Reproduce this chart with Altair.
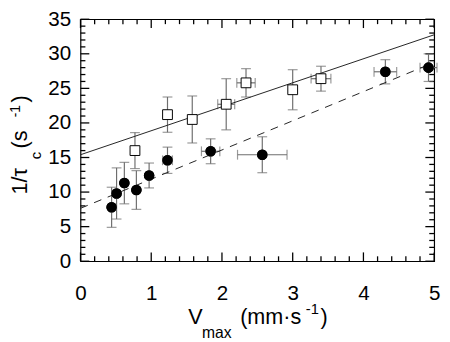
import altair as alt
import pandas as pd

# ---------------- data ----------------
circ_x = [0.44, 0.51, 0.62, 0.79, 0.97, 1.23, 1.84, 2.57, 4.31, 4.92]
circ_y = [7.8, 9.8, 11.3, 10.3, 12.4, 14.6, 15.9, 15.4, 27.4, 28.0]
circ_yerr = [2.9, 3.7, 3.0, 2.8, 1.8, 1.9, 1.8, 2.6, 1.75, 2.0]
circ_xerr = [0, 0, 0, 0, 0, 0.07, 0.13, 0.35, 0.16, 0.12]

sq_x = [0.77, 1.23, 1.58, 2.06, 2.34, 3.00, 3.40]
sq_y = [16.0, 21.2, 20.5, 22.7, 25.8, 24.8, 26.4]
sq_yerr = [2.6, 2.55, 3.4, 3.7, 2.05, 2.9, 1.8]
sq_xerr = [0, 0, 0, 0.12, 0.13, 0, 0.14]

fit_x = [0, 5]
solid_y = [15.4, 32.75]
dashed_y = [7.65, 28.75]

x_major = [0, 1, 2, 3, 4, 5]
x_minor = [round(i * 0.2, 1) for i in range(26) if i % 5 != 0]
y_major = [0, 5, 10, 15, 20, 25, 30, 35]
y_minor = [i for i in range(36) if i % 5 != 0]

W, H = 361, 247
FONT = "Liberation Sans"
XMAX, YMAX = 5, 35

circ = pd.DataFrame({"x": circ_x, "y": circ_y, "ye": circ_yerr, "xe": circ_xerr})
sq = pd.DataFrame({"x": sq_x, "y": sq_y, "ye": sq_yerr, "xe": sq_xerr})
for d in (circ, sq):
    d["ylo"] = d["y"] - d["ye"]
    d["yhi"] = d["y"] + d["ye"]
    d["xlo"] = d["x"] - d["xe"]
    d["xhi"] = d["x"] + d["xe"]

xs = alt.Scale(domain=[0, XMAX], nice=False, zero=False)
ys = alt.Scale(domain=[0, YMAX], nice=False, zero=False)


def X(f):
    return alt.X(f, scale=xs, axis=alt.Axis(title=None))


def Y(f):
    return alt.Y(f, scale=ys, axis=alt.Axis(title=None))


ERR = "#6e6e6e"


def errbars(d):
    v = alt.Chart(d).mark_rule(color=ERR, strokeWidth=1.2).encode(
        x=X("x:Q"), y=Y("ylo:Q"), y2="yhi:Q")
    vcap_lo = alt.Chart(d).mark_tick(color=ERR, orient="horizontal", size=10, thickness=1.2).encode(
        x=X("x:Q"), y=Y("ylo:Q"))
    vcap_hi = alt.Chart(d).mark_tick(color=ERR, orient="horizontal", size=10, thickness=1.2).encode(
        x=X("x:Q"), y=Y("yhi:Q"))
    dh = d[d["xe"] > 0].reset_index(drop=True)
    h = alt.Chart(dh).mark_rule(color=ERR, strokeWidth=1.2).encode(
        x=X("xlo:Q"), x2="xhi:Q", y=Y("y:Q"))
    hcap_lo = alt.Chart(dh).mark_tick(color=ERR, orient="vertical", size=10, thickness=1.2).encode(
        x=X("xlo:Q"), y=Y("y:Q"))
    hcap_hi = alt.Chart(dh).mark_tick(color=ERR, orient="vertical", size=10, thickness=1.2).encode(
        x=X("xhi:Q"), y=Y("y:Q"))
    return [v, vcap_lo, vcap_hi, h, hcap_lo, hcap_hi]


fit = pd.DataFrame({"x": fit_x, "solid": solid_y, "dashed": dashed_y})
solid = alt.Chart(fit).mark_line(color="#222", strokeWidth=1).encode(
    x=X("x:Q"), y=Y("solid:Q"))
dashed = alt.Chart(fit).mark_line(color="#222", strokeWidth=1, strokeDash=[8, 7]).encode(
    x=X("x:Q"), y=Y("dashed:Q"))

circles = alt.Chart(circ).mark_point(shape="circle", filled=True, color="black", size=115, opacity=1).encode(
    x=X("x:Q"), y=Y("y:Q"))
squares = alt.Chart(sq).mark_point(shape="square", filled=True, fill="white", stroke="black",
                                    strokeWidth=1, size=100, opacity=1).encode(
    x=X("x:Q"), y=Y("y:Q"))

# inward tick marks on all four sides (one data frame per layer)
MAJ, MIN = 9, 5
TK = "#000000"


def xtick(vals, L, side):
    d = pd.DataFrame({"xv" + side: vals})
    if side == "b":
        enc = dict(y=alt.value(H), y2=alt.value(H - L))
    else:
        enc = dict(y=alt.value(0), y2=alt.value(L))
    return alt.Chart(d).mark_rule(color=TK, strokeWidth=1.3).encode(
        x=alt.X("xv" + side + ":Q", scale=xs), **enc)


def ytick(vals, L, side):
    d = pd.DataFrame({"yv" + side: vals})
    if side == "l":
        enc = dict(x=alt.value(0), x2=alt.value(L))
    else:
        enc = dict(x=alt.value(W), x2=alt.value(W - L))
    return alt.Chart(d).mark_rule(color=TK, strokeWidth=1.3).encode(
        y=alt.Y("yv" + side + ":Q", scale=ys), **enc)


ticks = [
    xtick(x_major, MAJ, "b"), xtick(x_major, MAJ, "t"),
    xtick(x_minor, MIN, "b"), xtick(x_minor, MIN, "t"),
    ytick(y_major, MAJ, "l"), ytick(y_major, MAJ, "r"),
    ytick(y_minor, MIN, "l"), ytick(y_minor, MIN, "r"),
]


def txt(s, x, y, size, angle=0, align="left"):
    return alt.Chart(pd.DataFrame({"t": [s]})).mark_text(
        font=FONT, fontSize=size, color="black", align=align, baseline="alphabetic", angle=angle
    ).encode(text="t:N", x=alt.value(x), y=alt.value(y))


x_title = [
    txt("V", 110, 311, 22),
    txt("max", 124, 325, 16),
    txt("(mm·s", 163, 311, 22),
    txt("-1", 230, 301, 15),
    txt(")", 245, 311, 22),
]
y_title = [
    txt("1/τ", -55, 179, 22, angle=270),
    txt("c", -40, 143, 15, angle=270),
    txt("(s", -55, 132, 22, angle=270),
    txt("-1", -62, 100, 14, angle=270),
    txt(")", -55, 85, 22, angle=270),
]

layers = [circles] + ticks + errbars(sq) + errbars(circ) + [solid, dashed, squares, circles] + x_title + y_title

chart = alt.layer(*layers).properties(
    width=W, height=H,
    autosize=alt.AutoSizeParams(type="none"),
    padding={"left": 74, "top": 8, "right": 8, "bottom": 79},
).configure_view(stroke="black", strokeWidth=1.2).configure_axis(
    ticks=False, domain=False, grid=False, labelFont=FONT, labelFontSize=21,
    labelColor="black", labelFlush=False, labelOverlap=False, format="d",
).configure_axisX(tickCount=5, labelPadding=22).configure_axisY(tickCount=8, labelPadding=10)

chart.save("out.html", embed_options={"renderer": "svg", "actions": False})
